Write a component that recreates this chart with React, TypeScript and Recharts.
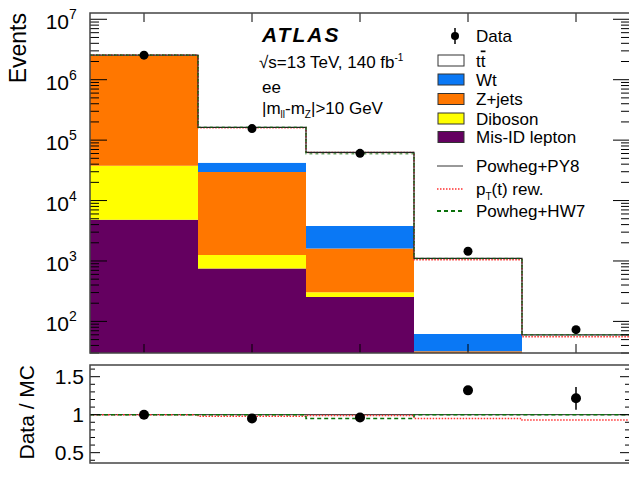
import React from 'react';
import { ComposedChart, Bar, Line, XAxis, YAxis, ErrorBar } from 'recharts';

// bins: number of jets
const BINS = ['0', '1', '2', '3', '≥ 4'];

// events per bin
const DATA = [2.55e6, 1.55e5, 6.05e4, 1450, 73];
const MISID = [4800, 750, 254, 20, 5];
const DIBOSON = [33000, 500, 49, 4, 1];
const ZJETS = [2.45e6, 28400, 1300, 8, 2];
const WT = [8000, 12400, 2200, 30, 12];
const TTBAR = [60000, 121000, 59000, 1040, 40];

// ratio panel
const RATIO = [1.0, 0.95, 0.963, 1.32, 1.216];
const RATIO_ERR = [0.01, 0.012, 0.015, 0.04, 0.15];
const PTREW_RATIO = [1.0, 0.98, 0.99, 0.95, 0.93];
const HW7_RATIO = [1.0, 1.0, 0.95, 1.0, 1.0];

const Y_MIN = 30;
const Y_MAX = 1.27e7;
const R_MIN = 0.364;
const R_MAX = 1.654;

const FONT = '"Liberation Sans", Arial, Helvetica, sans-serif';
const PLOT_L = 90;
const PLOT_R = 630;
const MAIN_TOP = 13;
const MAIN_BOTTOM = 353;
const R_TOP = 365;
const R_BOTTOM = 463;
const FRAME = '#444';

const STACK = [
  { key: 'misid', name: 'Mis-ID lepton', values: MISID, color: '#640060' },
  { key: 'diboson', name: 'Diboson', values: DIBOSON, color: '#ffff00' },
  { key: 'zjets', name: 'Z+jets', values: ZJETS, color: '#ff7700' },
  { key: 'wt', name: 'Wt', values: WT, color: '#0a78f5' },
  { key: 'ttbar', name: 'tt', values: TTBAR, color: '#ffffff' },
];

const mainRows = BINS.map((bin, i) => {
  const row: Record<string, any> = { bin, data: DATA[i] };
  let below = 0;
  STACK.forEach((s) => {
    const top = below + s.values[i];
    row[s.key] = [Math.max(below, Y_MIN), Math.max(top, Y_MIN)];
    below = top;
  });
  row.total = below;
  return row;
});

const totals = mainRows.map((r) => r.total as number);

function stepData(values: number[]) {
  const pts = values.map((y, i) => ({ x: i - 0.5, y }));
  pts.push({ x: values.length - 0.5, y: values[values.length - 1] });
  return pts;
}

const nominalStep = stepData(totals);
const ptrewStep = stepData(totals.map((t, i) => t * PTREW_RATIO[i]));
const hw7Step = stepData(totals.map((t, i) => t * HW7_RATIO[i]));

const ratioRows = BINS.map((bin, i) => ({ x: i, ratio: RATIO[i], err: RATIO_ERR[i] }));
const oneStep = stepData(BINS.map(() => 1));
const ptrewRatioStep = stepData(PTREW_RATIO);
const hw7RatioStep = stepData(HW7_RATIO);

const Y_TICKS: number[] = [];
for (let e = 1; e <= 7; e++) {
  for (let m = 1; m <= 9; m++) {
    const v = m * Math.pow(10, e);
    if (v >= Y_MIN && v <= Y_MAX) Y_TICKS.push(v);
  }
}
const R_TICKS = [0.4, 0.5, 0.6, 0.7, 0.8, 0.9, 1.0, 1.1, 1.2, 1.3, 1.4, 1.5, 1.6];

function LogTick(props: any) {
  const { y, payload } = props;
  const v = payload.value as number;
  const exp = Math.round(Math.log10(v));
  const major = Math.abs(v - Math.pow(10, exp)) < 1e-6 * v;
  const len = major ? 17 : 9;
  return (
    <g>
      <line x1={PLOT_L} x2={PLOT_L + len} y1={y} y2={y} stroke="#000" />
      <line x1={PLOT_R - len} x2={PLOT_R} y1={y} y2={y} stroke="#000" />
      {major && (
        <>
          <text x={69} y={y + 10} textAnchor="end" fontSize={21} fontFamily={FONT} fill="#000">10</text>
          <text x={69} y={y} textAnchor="start" fontSize={14} fontFamily={FONT} fill="#000">{exp}</text>
        </>
      )}
    </g>
  );
}

function MainXTick(props: any) {
  const { x } = props;
  return (
    <g>
      <line x1={x} x2={x} y1={MAIN_BOTTOM} y2={MAIN_BOTTOM - 9} stroke="#000" />
      <line x1={x} x2={x} y1={MAIN_TOP} y2={MAIN_TOP + 9} stroke="#000" />
    </g>
  );
}

function RatioYTick(props: any) {
  const { y, payload } = props;
  const v = payload.value as number;
  const major = [0.5, 1.0, 1.5].some((m) => Math.abs(m - v) < 1e-6);
  const len = major ? 10 : 5;
  return (
    <g>
      <line x1={PLOT_L} x2={PLOT_L + len} y1={y} y2={y} stroke="#000" />
      <line x1={PLOT_R - len} x2={PLOT_R} y1={y} y2={y} stroke="#000" />
      {major && (
        <text x={84} y={y + 7.5} textAnchor="end" fontSize={21} fontFamily={FONT} fill="#000">
          {v === 1 ? '1' : String(v)}
        </text>
      )}
    </g>
  );
}

function RatioXTick(props: any) {
  const { x, payload } = props;
  return (
    <g>
      <line x1={x} x2={x} y1={R_BOTTOM} y2={R_BOTTOM - 4} stroke="#000" />
      <line x1={x} x2={x} y1={R_TOP} y2={R_TOP + 4} stroke="#000" />
      <text x={x} y={480} textAnchor="middle" fontSize={21} fontFamily={FONT} fill="#000">
        {BINS[payload.value]}
      </text>
    </g>
  );
}

const LEGEND_LINES = [
  { label: 'Powheg+PY8', y: 166, color: '#333', dash: undefined, width: 1 },
  { label: 'pT', y: 189, color: '#ff3030', dash: '1.5 1.5', width: 1.5 },
  { label: 'Powheg+HW7', y: 211, color: '#0a700a', dash: '4 3', width: 2 },
];

function Overlay() {
  const boxes = [...STACK].reverse();
  const boxY = [60.5, 79.5, 99, 118.5, 137];
  const txt = { fontFamily: FONT, fill: '#000' };
  return (
    <svg width={629} height={486} style={{ position: 'absolute', left: 0, top: 0, pointerEvents: 'none' }}>
      <rect x={PLOT_L} y={MAIN_TOP} width={PLOT_R - PLOT_L} height={MAIN_BOTTOM - MAIN_TOP} fill="none" stroke={FRAME} strokeWidth={1.5} />
      <rect x={PLOT_L} y={R_TOP} width={PLOT_R - PLOT_L} height={R_BOTTOM - R_TOP} fill="none" stroke={FRAME} strokeWidth={1.5} />

      <text transform="translate(26,13) rotate(-90)" textAnchor="end" fontSize={23} {...txt}>Events</text>
      <text transform="translate(34,365) rotate(-90)" textAnchor="end" fontSize={21} {...txt}>Data / MC</text>

      <text x={262} y={42} fontSize={21} fontWeight="bold" fontStyle="italic" letterSpacing={2} {...txt}>ATLAS</text>
      <text x={259} y={68} fontSize={17} {...txt}>
        √s=13 TeV, 140 fb<tspan dy={-7} fontSize={10}>-1</tspan>
      </text>
      <text x={262} y={93} fontSize={17} {...txt}>ee</text>
      <text x={262} y={114} fontSize={17} {...txt}>
        |m<tspan dy={4} fontSize={10}>ll</tspan><tspan dy={-4}>-m</tspan>
        <tspan dy={4} fontSize={10}>Z</tspan><tspan dy={-4}>|&gt;10 GeV</tspan>
      </text>

      {/* legend */}
      <line x1={455} x2={455} y1={28} y2={44} stroke="#000" strokeWidth={1.5} />
      <circle cx={455} cy={36} r={4} fill="#000" />
      <text x={476} y={42} fontSize={17} {...txt}>Data</text>
      {boxes.map((s, i) => (
        <g key={s.key}>
          <rect x={438} y={boxY[i] - 5.5} width={26} height={11} fill={s.color} stroke="#333" strokeWidth={1} />
          <text x={476} y={boxY[i] + 6} fontSize={17} {...txt}>
            {s.key === 'ttbar' ? (
              <>t<tspan style={{ textDecoration: 'overline' }}>t</tspan></>
            ) : (
              s.name
            )}
          </text>
        </g>
      ))}
      {LEGEND_LINES.map((l) => (
        <g key={l.label}>
          <line x1={437} x2={463} y1={l.y} y2={l.y} stroke={l.color} strokeWidth={l.width} strokeDasharray={l.dash} />
          <text x={476} y={l.y + 6} fontSize={17} {...txt}>
            {l.label === 'pT' ? (
              <>p<tspan dy={5} fontSize={10}>T</tspan><tspan dy={-5}>(t) rew.</tspan></>
            ) : (
              l.label
            )}
          </text>
        </g>
      ))}
    </svg>
  );
}

export default function App() {
  return (
    <div style={{ position: 'absolute', left: 0, top: 0, width: 629, height: 486, overflow: 'hidden', background: '#fff' }}>
      <div style={{ position: 'absolute', left: 0, top: 0 }}>
        <ComposedChart width={640} height={360} data={mainRows} margin={{ top: MAIN_TOP, right: 10, left: 0, bottom: 0 }} barCategoryGap={0} barGap={0}>
          {STACK.map((s) => (
            <XAxis key={s.key} xAxisId={s.key} dataKey="bin" type="category" hide />
          ))}
          <XAxis xAxisId="num" dataKey="x" type="number" domain={[-0.5, 4.5]} allowDataOverflow hide />
          <XAxis xAxisId="main" dataKey="bin" type="category" height={7} axisLine={false} tickLine={false} tick={<MainXTick />} interval={0} />
          <YAxis
            scale="log"
            type="number"
            domain={[Y_MIN, Y_MAX]}
            allowDataOverflow
            ticks={Y_TICKS}
            interval={0}
            width={90}
            axisLine={false}
            tickLine={false}
            tick={<LogTick />}
          />
          {STACK.map((s) => (
            <Bar key={s.key} xAxisId={s.key} dataKey={s.key} fill={s.color} isAnimationActive={false} />
          ))}
          <Line xAxisId="num" data={ptrewStep} dataKey="y" type="stepAfter" stroke="#ff3030" strokeWidth={1.5} strokeDasharray="1.5 1.5" dot={false} isAnimationActive={false} />
          <Line xAxisId="num" data={nominalStep} dataKey="y" type="stepAfter" stroke="#222" strokeWidth={1.2} dot={false} isAnimationActive={false} />
          <Line xAxisId="num" data={hw7Step} dataKey="y" type="stepAfter" stroke="#0a700a" strokeWidth={1.5} strokeDasharray="3 3" strokeOpacity={0.6} dot={false} isAnimationActive={false} />
          <Line xAxisId="main" dataKey="data" stroke="none" strokeWidth={0} dot={{ r: 4.5, fill: '#000', stroke: '#000' }} activeDot={false} isAnimationActive={false} />
        </ComposedChart>
      </div>
      <div style={{ position: 'absolute', left: 0, top: 360 }}>
        <ComposedChart width={640} height={126} data={ratioRows} margin={{ top: R_TOP - 360, right: 10, left: 0, bottom: 0 }}>
          <XAxis
            xAxisId="r"
            dataKey="x"
            type="number"
            domain={[-0.5, 4.5]}
            allowDataOverflow
            ticks={[0, 1, 2, 3, 4]}
            interval={0}
            height={486 - R_BOTTOM}
            axisLine={false}
            tickLine={false}
            tick={<RatioXTick />}
          />
          <YAxis
            type="number"
            domain={[R_MIN, R_MAX]}
            allowDataOverflow
            ticks={R_TICKS}
            interval={0}
            width={90}
            axisLine={false}
            tickLine={false}
            tick={<RatioYTick />}
          />
          <Line xAxisId="r" data={oneStep} dataKey="y" type="stepAfter" stroke="#222" strokeWidth={1} dot={false} isAnimationActive={false} />
          <Line xAxisId="r" data={ptrewRatioStep} dataKey="y" type="stepAfter" stroke="#ff3030" strokeWidth={1.5} strokeDasharray="1.5 1.5" dot={false} isAnimationActive={false} />
          <Line xAxisId="r" data={hw7RatioStep} dataKey="y" type="stepAfter" stroke="#0a700a" strokeWidth={1.5} strokeDasharray="4 3" dot={false} isAnimationActive={false} />
          <Line xAxisId="r" dataKey="ratio" stroke="none" strokeWidth={0} dot={{ r: 5, fill: '#000', stroke: '#000' }} activeDot={false} isAnimationActive={false}>
            <ErrorBar dataKey="err" direction="y" width={0} stroke="#000" strokeWidth={1.5} />
          </Line>
        </ComposedChart>
      </div>
      <Overlay />
    </div>
  );
}
